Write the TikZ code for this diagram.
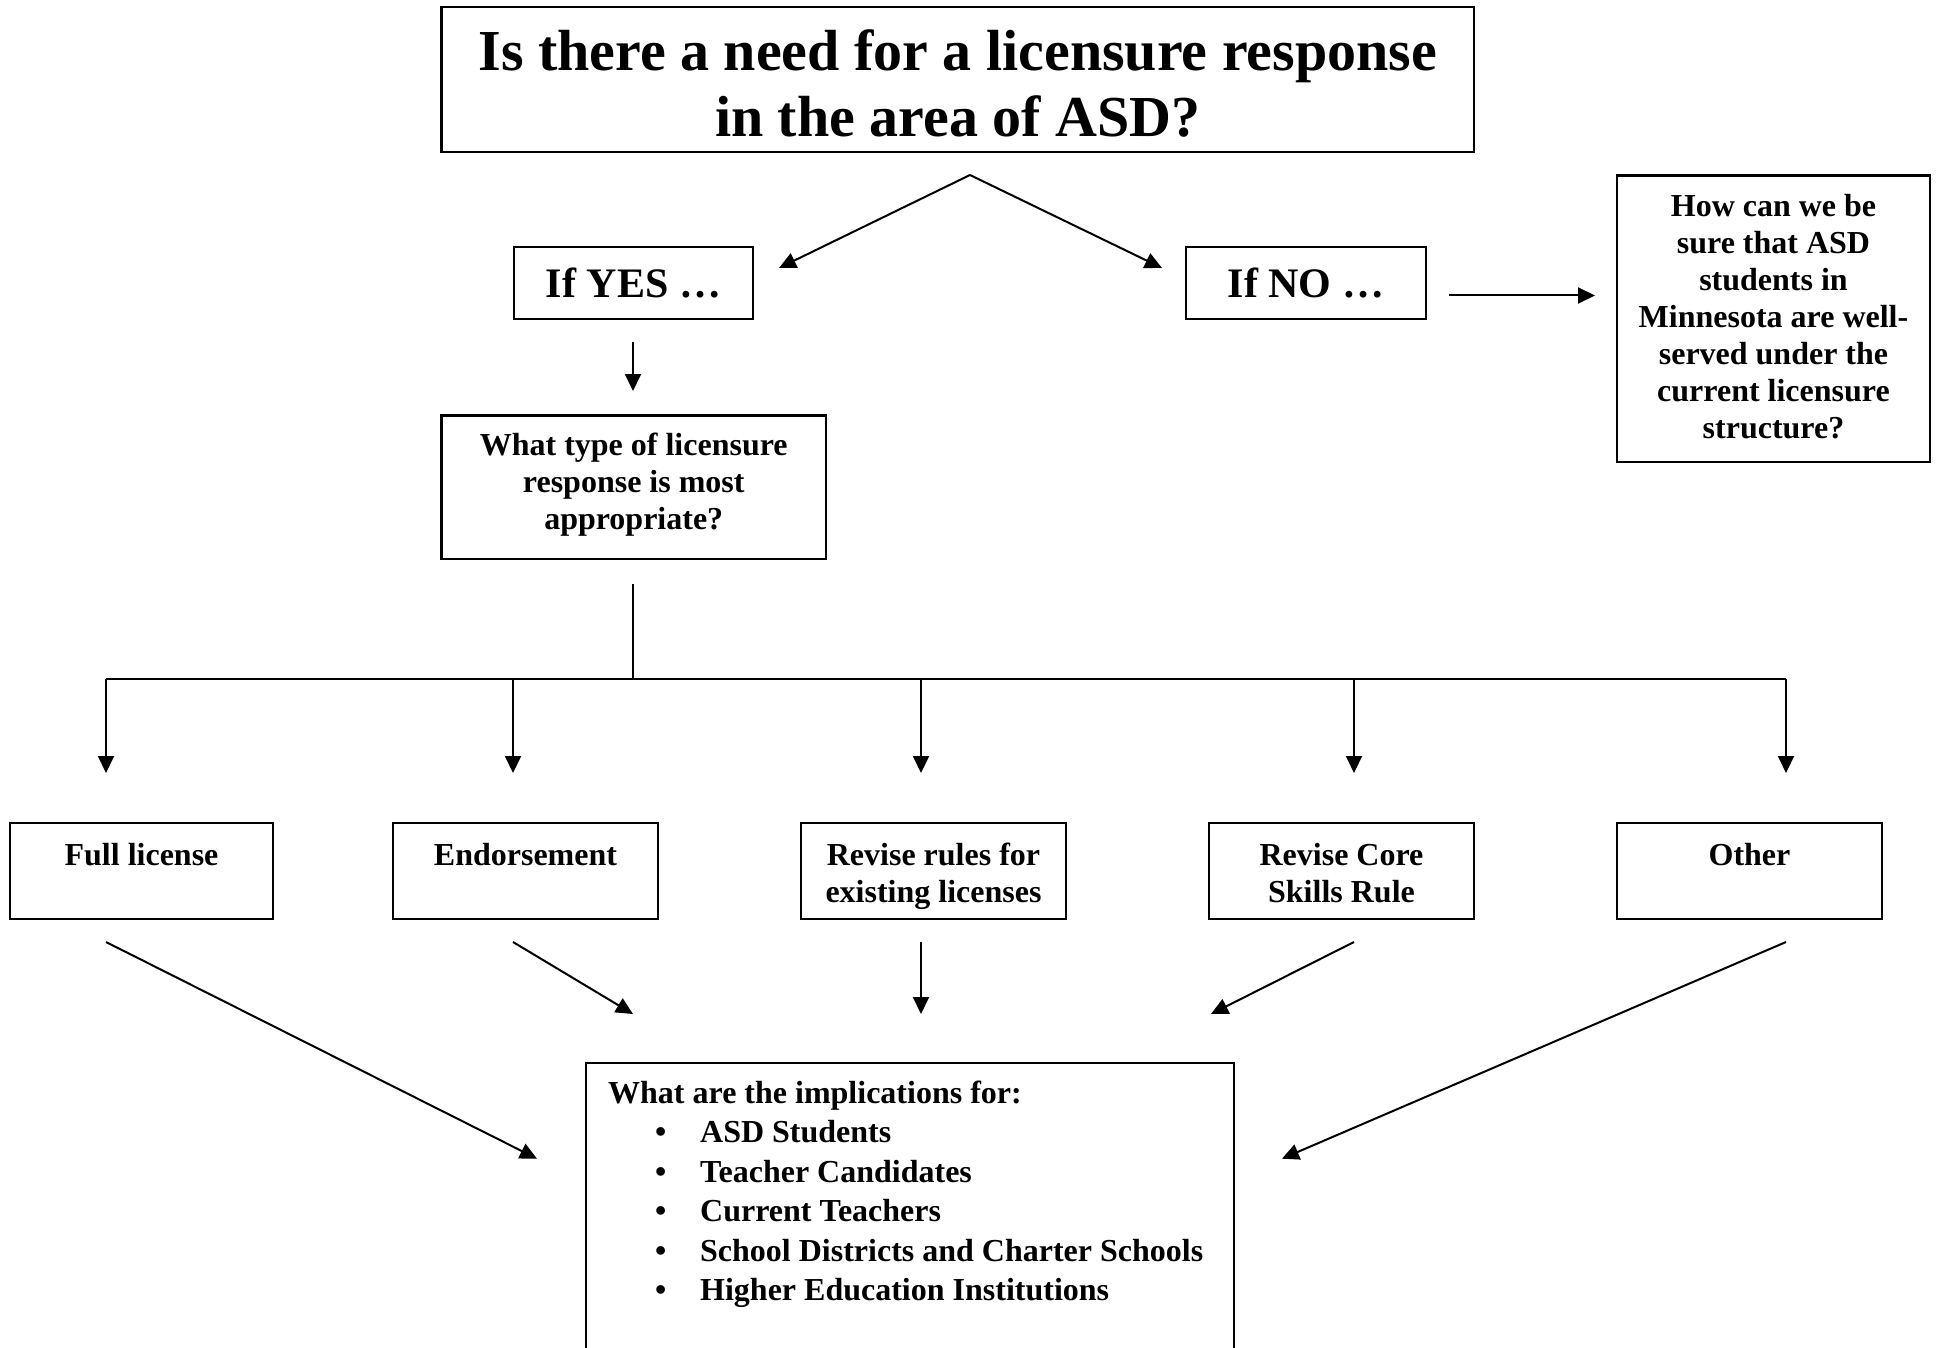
\documentclass[tikz,border=0pt]{standalone}
\usepackage{fontspec}
\setmainfont{Liberation Serif}
\usetikzlibrary{arrows.meta}
\begin{document}
\begin{tikzpicture}[x=1pt,y=-1pt,
  boxnode/.style={draw, line width=2.4pt, inner sep=0pt},
  txt/.style={font=\bfseries\fontsize{32}{37}\selectfont, align=center, anchor=base, inner sep=0pt},
  conn/.style={line width=2pt, -{Triangle[length=17pt,width=16pt]}},
  plainline/.style={line width=2pt}]
\useasboundingbox[fill=white] (0,0) rectangle (1939,1348);

% boxes
\node[boxnode, minimum width=1032.5pt, minimum height=145pt] (title) at (957.75,79.5) {};
\node[boxnode, minimum width=239pt, minimum height=72pt] (yes) at (633.5,283) {};
\node[boxnode, minimum width=240pt, minimum height=72pt] (no) at (1306,283) {};
\node[boxnode, minimum width=313pt, minimum height=286.4pt] (how) at (1773.5,318.8) {};
\node[boxnode, minimum width=384.5pt, minimum height=143.5pt] (what) at (633.75,487.25) {};
\node[boxnode, minimum width=263pt, minimum height=96pt] (full) at (141.5,871) {};
\node[boxnode, minimum width=265pt, minimum height=96pt] (endo) at (525.5,871) {};
\node[boxnode, minimum width=265pt, minimum height=96pt] (rules) at (933.5,871) {};
\node[boxnode, minimum width=265pt, minimum height=96pt] (core) at (1341.5,871) {};
\node[boxnode, minimum width=265pt, minimum height=96pt] (other) at (1749.5,871) {};
\begin{scope}
\clip (0,0) rectangle (1939,1348);
\node[boxnode, minimum width=648pt, minimum height=337pt] (impl) at (910,1231.5) {};
\end{scope}

% texts (anchor base = baseline of the last line)
\node[txt, font=\bfseries\fontsize{58}{65.5}\selectfont] (titletxt) at (957.75,136.5) {Is there a need for a licensure response\\in the area of ASD?};
\node[txt, font=\bfseries\fontsize{42}{48}\selectfont] (yestxt) at (633.5,298) {If YES \dots};
\node[txt, font=\bfseries\fontsize{42}{48}\selectfont] (notxt) at (1306,298) {If NO \dots};
\node[txt] (howtxt) at (1773.5,438.5) {How can we be\\sure that ASD\\students in\\Minnesota are well-\\served under the\\current licensure\\structure?};
\node[txt] (whattxt) at (633.75,529) {What type of licensure\\response is most\\appropriate?};
\node[txt] (fulltxt) at (141.5,865) {Full license};
\node[txt] (endotxt) at (525.5,865) {Endorsement};
\node[txt] (rulestxt) at (933.5,902) {Revise rules for\\existing licenses};
\node[txt] (coretxt) at (1341.5,902) {Revise Core\\Skills Rule};
\node[txt] (othertxt) at (1749.5,865) {Other};
\node[txt, font=\bfseries\fontsize{32}{39.5}\selectfont, align=left, anchor=base west] (impltxt) at (608,1300.5)
  {What are the implications for:\\
   \hspace*{47pt}\makebox[45pt][l]{\textbullet}ASD Students\\
   \hspace*{47pt}\makebox[45pt][l]{\textbullet}Teacher Candidates\\
   \hspace*{47pt}\makebox[45pt][l]{\textbullet}Current Teachers\\
   \hspace*{47pt}\makebox[45pt][l]{\textbullet}School Districts and Charter Schools\\
   \hspace*{47pt}\makebox[45pt][l]{\textbullet}Higher Education Institutions};

% connector points
\coordinate (apex) at (970,175);
\coordinate (yesin) at (779,268);
\coordinate (noin) at (1162,268);
\coordinate (noout) at (1449,295.5);
\coordinate (howin) at (1595,295.5);
\coordinate (yesout) at (633,342.5);
\coordinate (whatin) at (633,391);
\coordinate (whatout) at (633,583.7);
\coordinate (bus) at (633,679);
\coordinate (busL) at (106,679);
\coordinate (busR) at (1786,679);
\coordinate (fullin) at (106,773);
\coordinate (endoin) at (513,773);
\coordinate (rulesin) at (921,773);
\coordinate (corein) at (1354,773);
\coordinate (otherin) at (1786,773);
\coordinate (fullout) at (106,942);
\coordinate (endoout) at (513,942);
\coordinate (rulesout) at (921,942);
\coordinate (coreout) at (1354,942);
\coordinate (otherout) at (1786,942);
\coordinate (implA) at (537,1158.7);
\coordinate (implB) at (633,1014);
\coordinate (implC) at (921,1014);
\coordinate (implD) at (1211,1014);
\coordinate (implE) at (1282,1158.7);

% connectors
\draw[conn] (apex) -- (yesin);
\draw[conn] (apex) -- (noin);
\draw[conn] (noout) -- (howin);
\draw[conn] (yesout) -- (whatin);
\draw[plainline] (whatout) -- (bus);
\draw[plainline] (busL) -- (busR);
\draw[conn] (busL) -- (fullin);
\draw[conn] (endoin |- bus) -- (endoin);
\draw[conn] (rulesin |- bus) -- (rulesin);
\draw[conn] (corein |- bus) -- (corein);
\draw[conn] (busR) -- (otherin);
\draw[conn] (fullout) -- (implA);
\draw[conn] (endoout) -- (implB);
\draw[conn] (rulesout) -- (implC);
\draw[conn] (coreout) -- (implD);
\draw[conn] (otherout) -- (implE);
\end{tikzpicture}
\end{document}
